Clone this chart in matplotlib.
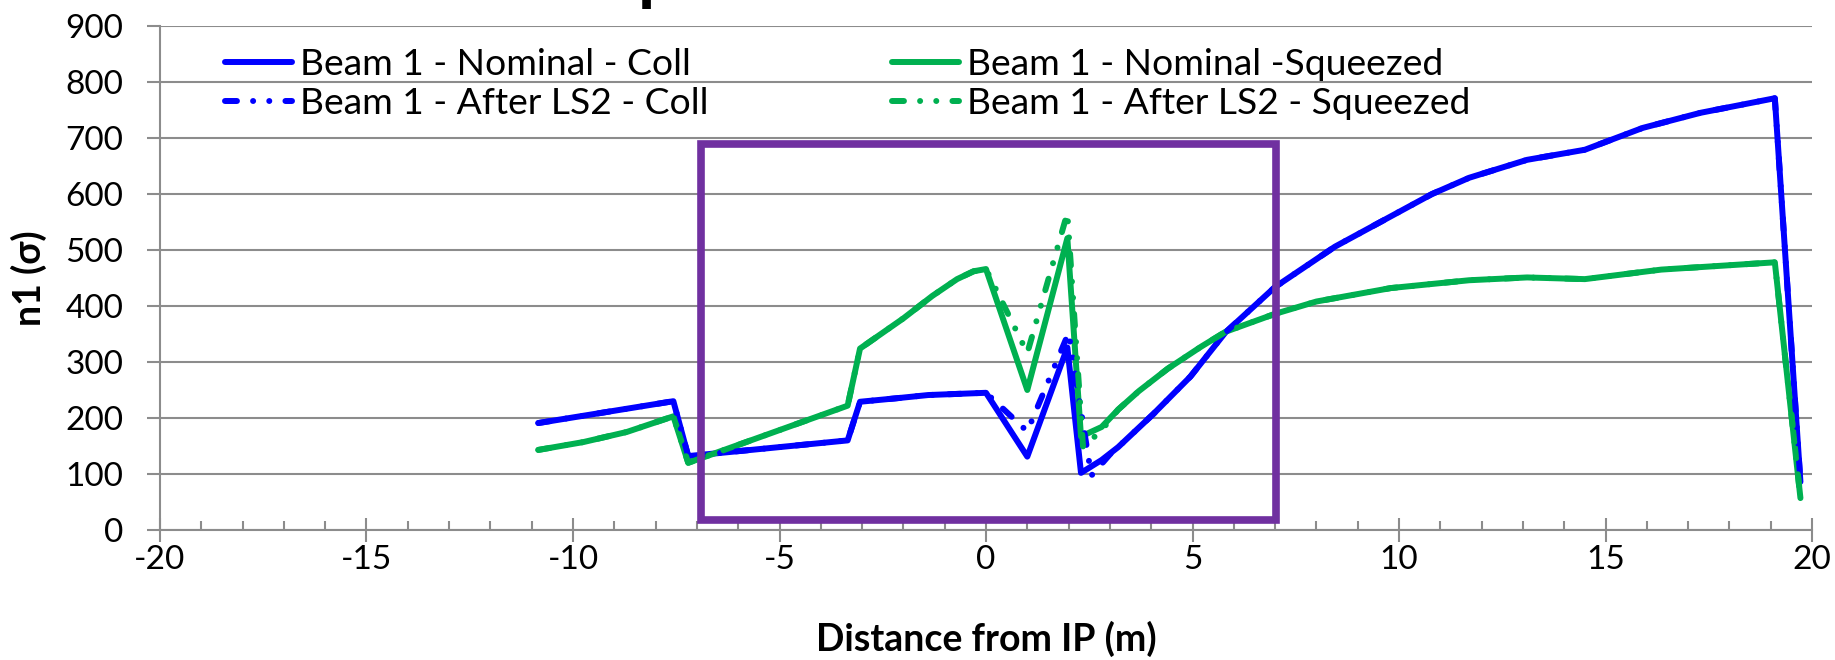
import matplotlib
matplotlib.use("Agg")
import matplotlib.pyplot as plt
from matplotlib.patches import Rectangle
from matplotlib.ticker import MultipleLocator

plt.rcParams['font.family'] = ['Lato', 'DejaVu Sans']
plt.rcParams['axes.unicode_minus'] = False

# Beam 1 - Nominal - Coll
x_nom_coll = [-10.84, -7.57, -7.21, -3.35, -3.05, -2.2, -1.4, 0.0, 1.0, 1.97, 2.3, 2.8, 3.2,
              4.05, 4.95, 5.8, 7.0, 8.45, 9.85, 10.8, 11.7, 13.1, 14.5, 15.9, 17.3, 19.1, 19.72]
y_nom_coll = [191, 230, 132, 160, 229, 235, 241, 245, 131, 326, 102, 125, 148,
              207, 274, 353, 434, 506, 562, 600, 629, 661, 679, 718, 745, 771, 86]

# Beam 1 - After LS2 - Coll
x_ls2_coll = [-10.84, -7.57, -7.21, -3.35, -3.05, -2.2, -1.4, 0.0, 1.0, 2.0, 2.55, 3.0, 3.2,
              4.05, 4.95, 5.8, 7.0, 8.45, 9.85, 10.8, 11.7, 13.1, 14.5, 15.9, 17.3, 19.1, 19.72]
y_ls2_coll = [191, 230, 132, 160, 229, 235, 241, 245, 176, 352, 97, 135, 148,
              207, 274, 353, 434, 506, 562, 600, 629, 661, 679, 718, 745, 771, 86]

# Beam 1 - Nominal -Squeezed
x_nom_sq = [-10.84, -9.75, -8.7, -7.57, -7.21, -3.35, -3.05, -2.0, -1.3, -0.7, -0.3, 0.0, 1.0,
            1.97, 2.3, 2.8, 3.2, 3.7, 4.4, 5.2, 5.8, 7.0, 8.0, 9.8, 11.7, 13.1, 14.5, 16.35,
            19.1, 19.72]
y_nom_sq = [143, 157, 175, 203, 120, 222, 324, 378, 418, 448, 462, 466, 250,
            521, 167, 184, 215, 248, 288, 327, 354, 386, 408, 432, 446, 451, 448, 465,
            478, 57]

# Beam 1 - After LS2 - Squeezed
x_ls2_sq = [-10.84, -9.75, -8.7, -7.57, -7.21, -3.35, -3.05, -2.0, -1.3, -0.7, -0.3, 0.0, 1.0,
            1.97, 2.35, 2.8, 3.2, 3.7, 4.4, 5.2, 5.8, 7.0, 8.0, 9.8, 11.7, 13.1, 14.5, 16.35,
            19.1, 19.72]
y_ls2_sq = [143, 157, 175, 203, 120, 222, 324, 378, 418, 448, 462, 466, 316,
            566, 148, 178, 215, 248, 288, 327, 354, 386, 408, 432, 446, 451, 448, 465,
            478, 57]

# highlighted region
box_x = [-6.9, 7.03]
box_y = [17, 690]

blue = '#0000FF'
green = '#00B050'
purple = '#7030A0'
grey = '#8C8C8C'
lw = 4.3
dashdotdot = (0, (2.0, 2.7, 0.01, 2.7, 0.01, 2.7))

fig = plt.figure(figsize=(18.35, 6.6), dpi=100)
ax = fig.add_axes([160 / 1835, 130 / 660, 1652 / 1835, 504 / 660])

l1, = ax.plot(x_nom_coll, y_nom_coll, color=blue, lw=lw, solid_capstyle='round',
              solid_joinstyle='round', label='Beam 1 - Nominal - Coll')
l2, = ax.plot(x_nom_sq, y_nom_sq, color=green, lw=lw, solid_capstyle='round',
              solid_joinstyle='round', label='Beam 1 - Nominal -Squeezed')
l3, = ax.plot(x_ls2_coll, y_ls2_coll, color=blue, lw=lw, linestyle=dashdotdot,
              dash_capstyle='round', dash_joinstyle='round', label='Beam 1 - After LS2 - Coll')
l4, = ax.plot(x_ls2_sq, y_ls2_sq, color=green, lw=lw, linestyle=dashdotdot,
              dash_capstyle='round', dash_joinstyle='round', label='Beam 1 - After LS2 - Squeezed')

ax.add_patch(Rectangle((box_x[0], box_y[0]), box_x[1] - box_x[0], box_y[1] - box_y[0],
                       fill=False, edgecolor=purple, lw=5.5, joinstyle='miter', zorder=5))

ax.set_xlim(-20, 20)
ax.set_ylim(0, 900)
ax.xaxis.set_major_locator(MultipleLocator(5))
ax.xaxis.set_minor_locator(MultipleLocator(1))
ax.yaxis.set_major_locator(MultipleLocator(100))

ax.yaxis.grid(True, color=grey, lw=1.5)
ax.set_axisbelow(True)
for s in ['top', 'right']:
    ax.spines[s].set_visible(False)
for s in ['left', 'bottom']:
    ax.spines[s].set_color(grey)
    ax.spines[s].set_linewidth(1.5)

ax.tick_params(axis='y', direction='out', length=9.5, width=1.5, color=grey,
               labelsize=24, pad=17)
ax.tick_params(axis='x', which='major', direction='inout', length=17, width=1.5, color=grey,
               labelsize=24, pad=2)
ax.tick_params(axis='x', which='minor', direction='in', length=6.5, width=1.5, color=grey)

ax.set_xlabel('Distance from IP (m)', fontsize=27, fontweight='bold', labelpad=33)
ax.set_ylabel('n1 (σ)', fontsize=27, fontweight='bold', labelpad=13)

ax.legend(handles=[l1, l3, l2, l4], ncol=2, frameon=False, loc='upper left',
          bbox_to_anchor=(0.026, 1.0), fontsize=26.8, handlelength=1.8, handletextpad=0.2,
          columnspacing=4.95, labelspacing=0.16, borderpad=0.1)

# cut-off title at the very top of the picture
fig.text(638 / 1835, 1 + 3 / 660, 'p', fontsize=50, fontweight='bold', ha='left',
         va='baseline')

fig.savefig('out.png', dpi=100)
